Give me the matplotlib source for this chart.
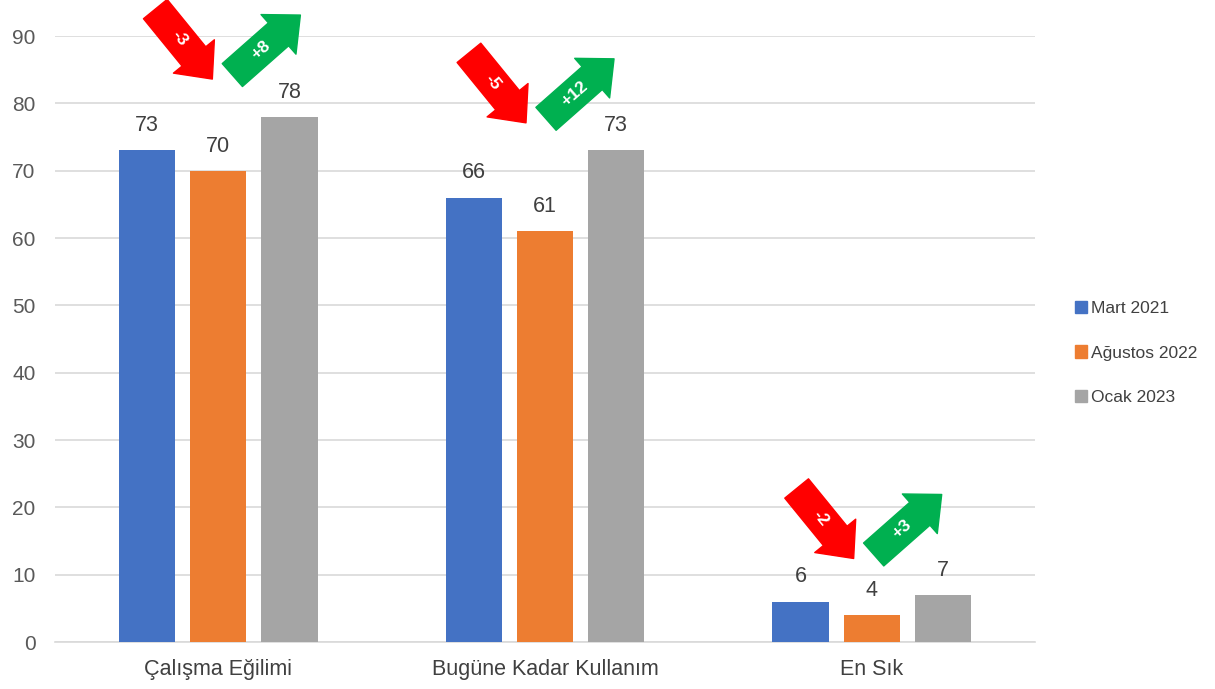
import numpy as np
import matplotlib
matplotlib.use("Agg")
import matplotlib.pyplot as plt
from matplotlib.patches import Patch

plt.rcParams['font.family'] = ['Liberation Sans', 'DejaVu Sans']

categories = ['Çalışma Eğilimi', 'Bugüne Kadar Kullanım', 'En Sık']
series = ['Mart 2021', 'Ağustos 2022', 'Ocak 2023']
mart_2021 = [73, 66, 6]
agustos_2022 = [70, 61, 4]
ocak_2023 = [78, 73, 7]
drop_labels = ['-3', '-5', '-2']
rise_labels = ['+8', '+12', '+3']
# where the change arrows sit: data y of the red arrow tail, x shift in px
arrow_top = [94.0, 87.5, 22.8]
arrow_shift = [0, -13, -12]

colors = ['#4472C4', '#ED7D31', '#A5A5A5']
values = [mart_2021, agustos_2022, ocak_2023]

fig = plt.figure(figsize=(12.15, 6.89), dpi=100)
ax = fig.add_axes([55 / 1215, 1 - 642 / 689, 980 / 1215, 606 / 689])

x = np.arange(len(categories))
width = 0.172
step = 0.218
for i, (vals, col) in enumerate(zip(values, colors)):
    pos = x + (i - 1) * step
    bars = ax.bar(pos, vals, width, color=col, label=series[i], zorder=3)
    for b, v in zip(bars, vals):
        ax.text(b.get_x() + b.get_width() / 2, v + 2.1, str(v),
                ha='center', va='bottom', fontsize=15.5, color='#404040')

ax.set_xlim(-0.5, 2.5)
ax.set_ylim(0, 90)
ax.set_yticks(range(0, 91, 10))
ax.set_xticks(x)
ax.set_xticklabels(categories, fontsize=15.5, color='#404040')
ax.tick_params(axis='y', length=0, pad=14, labelsize=15, labelcolor='#595959')
ax.tick_params(axis='x', length=0, pad=12)
ax.grid(axis='y', color='#D9D9D9', linewidth=1.2, zorder=0)
for s in ['top', 'right', 'left']:
    ax.spines[s].set_visible(False)
ax.spines['bottom'].set_color('#D9D9D9')
ax.spines['bottom'].set_linewidth(1.2)

# change arrows, sized in data units relative to each group centre
ypx = 606 / 90  # pixels per data unit
xpx = 326.5     # pixels per group
style = 'simple,head_length=1.05,head_width=1.9,tail_width=1.1'
for g in range(len(categories)):
    top = arrow_top[g]
    cx = g + arrow_shift[g] / xpx
    # red arrow: down-right
    tail = (cx - 63 / xpx, top)
    tip = (cx - 6 / xpx, top - 70 / ypx)
    ax.annotate('', xy=tip, xytext=tail, annotation_clip=False,
                arrowprops=dict(arrowstyle=style, mutation_scale=20,
                                color='#FF0000', shrinkA=0, shrinkB=0))
    mx = tail[0] + (tip[0] - tail[0]) * 0.42
    my = tail[1] + (tip[1] - tail[1]) * 0.42
    ax.text(mx, my, drop_labels[g], rotation=-51, color='white',
            fontsize=12.5, fontweight='bold', ha='center', va='center',
            rotation_mode='anchor', zorder=5)
    # green arrow: up-right
    tail = (cx + 14 / xpx, top - 66 / ypx)
    tip = (cx + 82 / xpx, top - 6 / ypx)
    ax.annotate('', xy=tip, xytext=tail, annotation_clip=False,
                arrowprops=dict(arrowstyle=style, mutation_scale=20,
                                color='#00B050', shrinkA=0, shrinkB=0))
    mx = tail[0] + (tip[0] - tail[0]) * 0.42
    my = tail[1] + (tip[1] - tail[1]) * 0.42
    ax.text(mx, my, rise_labels[g], rotation=41, color='white',
            fontsize=12.5, fontweight='bold', ha='center', va='center',
            rotation_mode='anchor', zorder=5)

handles = [Patch(color=c, label=s) for c, s in zip(colors, series)]
fig.legend(handles=handles, loc='center left', bbox_to_anchor=(1059 / 1215, 1 - 353 / 689),
           frameon=False, fontsize=12.5, handlelength=0.7, handleheight=0.7,
           handletextpad=0.25, labelspacing=1.7, labelcolor='#404040')

fig.savefig('out.png', dpi=100)
